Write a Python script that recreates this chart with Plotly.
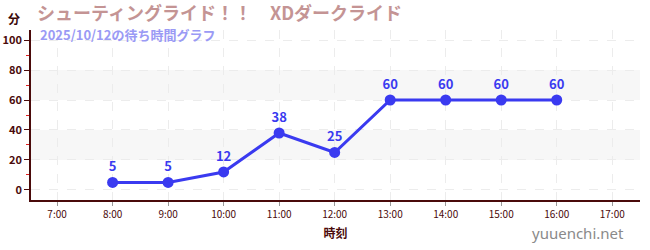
import plotly.graph_objects as go

hours = [8, 9, 10, 11, 12, 13, 14, 15, 16]
waits = [5, 5, 12, 38, 25, 60, 60, 60, 60]
tick_vals = [7, 8, 9, 10, 11, 12, 13, 14, 15, 16, 17]
tick_text = ["7:00", "8:00", "9:00", "10:00", "11:00", "12:00", "13:00", "14:00", "15:00", "16:00", "17:00"]
y_ticks = [0, 20, 40, 60, 80, 100]
title = "シューティングライド！！　XDダークライド"
subtitle = "2025/10/12の待ち時間グラフ"

FONT = "Noto Sans CJK JP"
AX = "#4a0a0a"
W, H = 650, 250
ML, MR, MT, MB = 31, 10, 30, 50
PW, PH = W - ML - MR, H - MT - MB


def px_ann(text, x, y, size, color, xanchor="left", family=FONT):
    return dict(text=text, xref="paper", yref="paper",
                x=(x - ML) / PW, y=1 - (y - MT) / PH,
                xanchor=xanchor, yanchor="middle", showarrow=False,
                font=dict(size=size, color=color, family=family))


fig = go.Figure()
fig.add_trace(go.Scatter(
    x=hours, y=waits, mode="lines+markers+text",
    text=[str(v) for v in waits], textposition="top center",
    textfont=dict(family=FONT, size=13, color="#3a3af0", weight="bold"),
    line=dict(color="#3a3af0", width=3),
    marker=dict(color="#3a3af0", size=11),
    cliponaxis=False, hoverinfo="skip"))

for lo, hi in [(20, 40), (60, 80)]:
    fig.add_shape(type="rect", xref="paper", yref="y", x0=0, x1=1, y0=lo, y1=hi,
                  fillcolor="#f7f7f7", line_width=0, layer="below")

fig.update_layout(
    width=W, height=H, margin=dict(l=ML, r=MR, t=MT, b=MB),
    paper_bgcolor="white", plot_bgcolor="white", showlegend=False,
    font=dict(family=FONT),
    xaxis=dict(range=[6.53, 17.5], tickvals=tick_vals, ticktext=tick_text, automargin=False,
               tickfont=dict(size=10, color=AX, family=FONT), ticks="outside", ticklen=4,
               tickcolor="#999", showline=True, linecolor=AX, linewidth=1.5,
               showgrid=True, gridcolor="#ececec", griddash="dash", zeroline=False,
               title=dict(text="<b>時刻</b>", font=dict(size=12, color=AX, family=FONT), standoff=10)),
    yaxis=dict(range=[-6.7, 106.7], tickvals=y_ticks, automargin=False,
               tickfont=dict(size=11, color=AX, family=FONT, weight="bold"), ticks="outside", ticklen=5,
               tickcolor=AX, showline=True, linecolor=AX, linewidth=1.5,
               showgrid=True, gridcolor="#ececec", griddash="dash", zeroline=False,
               minor=dict(tickvals=[10, 30, 50, 70, 90], ticks="outside", ticklen=3,
                          tickcolor="#e02020", showgrid=False)),
    annotations=[
        px_ann("<b>分</b>", 14, 18, 12, "#3a0808", xanchor="center"),
        px_ann("<b>" + title + "</b>", 35, 12, 18, "#c49494"),
        px_ann("<b>" + subtitle + "</b>", 38, 34, 13, "#9a9af5"),
        px_ann("yuuenchi.net", 578, 233, 15, "#8a8a8a", xanchor="center", family="Noto Sans"),
    ],
)

fig.write_html("out.html")
